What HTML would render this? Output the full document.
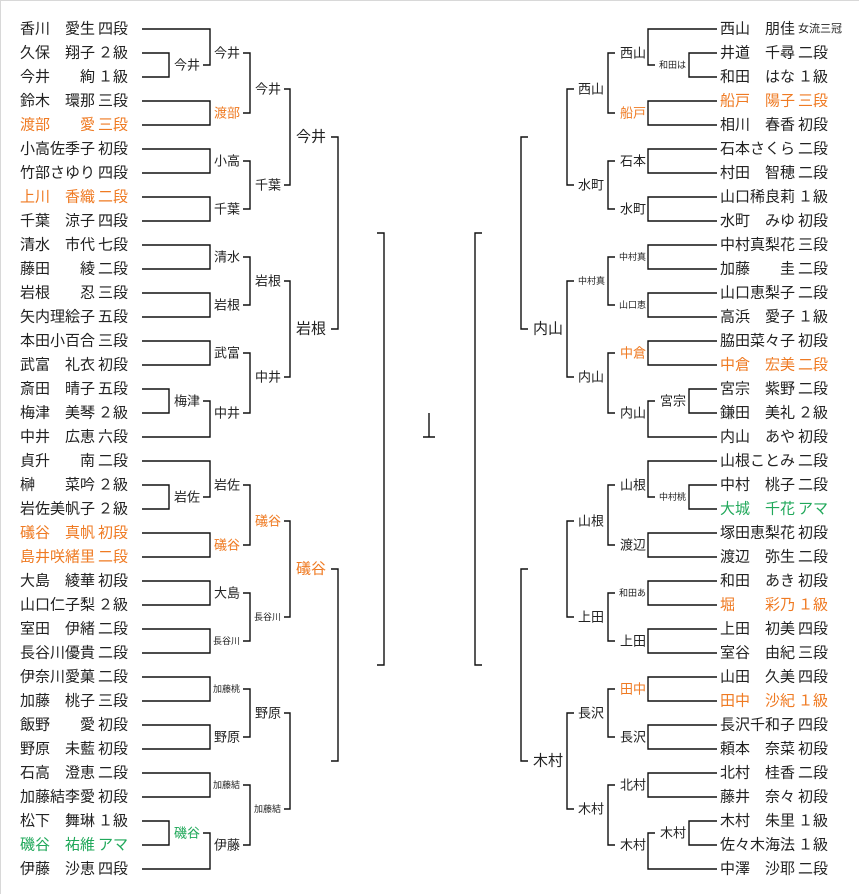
<!DOCTYPE html>
<html><head><meta charset="utf-8"><style>
html,body{margin:0;padding:0;background:#fff;}
svg{display:block;}
text{font-family:"Liberation Sans","Noto Sans CJK JP",sans-serif;fill:#222;dominant-baseline:central;}
.n{font-size:15px;}
.l{font-size:13px;}
.b{font-size:15px;}
.s{font-size:9px;}
.t{font-size:11px;}
.o{fill:#ef7a22;}
.g{fill:#20a85a;}
.e{text-anchor:end;}
</style></head><body>
<svg width="859" height="894" viewBox="0 0 859 894" xmlns="http://www.w3.org/2000/svg">
<rect x="0.5" y="0.5" width="880" height="900" fill="none" stroke="#d8d8d8"/>
<g fill="none" stroke="#111" stroke-width="1.4">
<path d="M142 29H210V65H203M142 53H169V77H142M142 101H210V125H142M142 149H210V173H142M142 197H210V221H142M243 53H250V113H243M243 161H250V209H243M284 89H290V185H284M331 137H338V329H331"/>
<path d="M142 245H210V269H142M142 293H210V317H142M142 341H210V365H142M142 389H169V413H142M203 401H210V437H142M243 257H250V305H243M243 353H250V413H243M284 281H290V377H284"/>
<path d="M142 461H210V497H203M142 485H169V509H142M142 533H210V557H142M142 581H210V605H142M142 629H210V653H142M243 485H250V545H243M243 593H250V641H243M284 521H290V617H284M331 569H338V761H331"/>
<path d="M142 677H210V701H142M142 725H210V749H142M142 773H210V797H142M142 821H169V845H142M203 833H210V869H142M243 689H250V737H243M243 785H250V845H243M284 713H290V809H284"/>
<path d="M377 233H384V665H377M429 413V437M423 437H435"/>
<path d="M717 29H648V65H655M717 53H689V77H717M717 101H648V125H717M717 149H648V173H717M717 197H648V221H717M615 53H608V113H615M615 161H608V209H615M574 89H567V185H574M528 137H521V329H528"/>
<path d="M717 245H648V269H717M717 293H648V317H717M717 341H648V365H717M717 389H689V413H717M655 401H648V437H717M615 257H608V305H615M615 353H608V413H615M574 281H567V377H574"/>
<path d="M717 461H648V497H655M717 485H689V509H717M717 533H648V557H717M717 581H648V605H717M717 629H648V653H717M615 485H608V545H615M615 593H608V641H615M574 521H567V617H574M528 569H521V761H528"/>
<path d="M717 677H648V701H717M717 725H648V749H717M717 773H648V797H717M717 821H689V845H717M655 833H648V869H717M615 689H608V737H615M615 785H608V845H615M574 713H567V809H574"/>
<path d="M482 233H475V665H482"/>
</g>

<g class="n">
<text x="20" y="29">香川</text><text x="95" y="29" class="e">愛生</text><text x="98" y="29">四段</text>
<text x="20" y="53">久保</text><text x="95" y="53" class="e">翔子</text><text x="98" y="53">２級</text>
<text x="20" y="77">今井</text><text x="95" y="77" class="e">絢</text><text x="98" y="77">１級</text>
<text x="20" y="101">鈴木</text><text x="95" y="101" class="e">環那</text><text x="98" y="101">三段</text>
<text x="20" y="125" class="o">渡部</text><text x="95" y="125" class="e o">愛</text><text x="98" y="125" class="o">三段</text>
<text x="20" y="149">小高佐季子</text><text x="98" y="149">初段</text>
<text x="20" y="173">竹部さゆり</text><text x="98" y="173">四段</text>
<text x="20" y="197" class="o">上川</text><text x="95" y="197" class="e o">香織</text><text x="98" y="197" class="o">二段</text>
<text x="20" y="221">千葉</text><text x="95" y="221" class="e">涼子</text><text x="98" y="221">四段</text>
<text x="20" y="245">清水</text><text x="95" y="245" class="e">市代</text><text x="98" y="245">七段</text>
<text x="20" y="269">藤田</text><text x="95" y="269" class="e">綾</text><text x="98" y="269">二段</text>
<text x="20" y="293">岩根</text><text x="95" y="293" class="e">忍</text><text x="98" y="293">三段</text>
<text x="20" y="317">矢内理絵子</text><text x="98" y="317">五段</text>
<text x="20" y="341">本田小百合</text><text x="98" y="341">三段</text>
<text x="20" y="365">武富</text><text x="95" y="365" class="e">礼衣</text><text x="98" y="365">初段</text>
<text x="20" y="389">斎田</text><text x="95" y="389" class="e">晴子</text><text x="98" y="389">五段</text>
<text x="20" y="413">梅津</text><text x="95" y="413" class="e">美琴</text><text x="98" y="413">２級</text>
<text x="20" y="437">中井</text><text x="95" y="437" class="e">広恵</text><text x="98" y="437">六段</text>
<text x="20" y="461">貞升</text><text x="95" y="461" class="e">南</text><text x="98" y="461">二段</text>
<text x="20" y="485">榊</text><text x="95" y="485" class="e">菜吟</text><text x="98" y="485">２級</text>
<text x="20" y="509">岩佐美帆子</text><text x="98" y="509">２級</text>
<text x="20" y="533" class="o">礒谷</text><text x="95" y="533" class="e o">真帆</text><text x="98" y="533" class="o">初段</text>
<text x="20" y="557" class="o">島井咲緒里</text><text x="98" y="557" class="o">二段</text>
<text x="20" y="581">大島</text><text x="95" y="581" class="e">綾華</text><text x="98" y="581">初段</text>
<text x="20" y="605">山口仁子梨</text><text x="98" y="605">２級</text>
<text x="20" y="629">室田</text><text x="95" y="629" class="e">伊緒</text><text x="98" y="629">二段</text>
<text x="20" y="653">長谷川優貴</text><text x="98" y="653">二段</text>
<text x="20" y="677">伊奈川愛菓</text><text x="98" y="677">二段</text>
<text x="20" y="701">加藤</text><text x="95" y="701" class="e">桃子</text><text x="98" y="701">三段</text>
<text x="20" y="725">飯野</text><text x="95" y="725" class="e">愛</text><text x="98" y="725">初段</text>
<text x="20" y="749">野原</text><text x="95" y="749" class="e">未藍</text><text x="98" y="749">初段</text>
<text x="20" y="773">石高</text><text x="95" y="773" class="e">澄恵</text><text x="98" y="773">二段</text>
<text x="20" y="797">加藤結李愛</text><text x="98" y="797">初段</text>
<text x="20" y="821">松下</text><text x="95" y="821" class="e">舞琳</text><text x="98" y="821">１級</text>
<text x="20" y="845" class="g">磯谷</text><text x="95" y="845" class="e g">祐維</text><text x="98" y="845" class="g">アマ</text>
<text x="20" y="869">伊藤</text><text x="95" y="869" class="e">沙恵</text><text x="98" y="869">四段</text>
</g>

<g class="n">
<text x="720" y="29">西山</text><text x="795" y="29" class="e">朋佳</text><text x="798" y="29" class="t">女流三冠</text>
<text x="720" y="53">井道</text><text x="795" y="53" class="e">千尋</text><text x="798" y="53">二段</text>
<text x="720" y="77">和田</text><text x="795" y="77" class="e">はな</text><text x="798" y="77">１級</text>
<text x="720" y="101" class="o">船戸</text><text x="795" y="101" class="e o">陽子</text><text x="798" y="101" class="o">三段</text>
<text x="720" y="125">相川</text><text x="795" y="125" class="e">春香</text><text x="798" y="125">初段</text>
<text x="720" y="149">石本さくら</text><text x="798" y="149">二段</text>
<text x="720" y="173">村田</text><text x="795" y="173" class="e">智穂</text><text x="798" y="173">二段</text>
<text x="720" y="197">山口稀良莉</text><text x="798" y="197">１級</text>
<text x="720" y="221">水町</text><text x="795" y="221" class="e">みゆ</text><text x="798" y="221">初段</text>
<text x="720" y="245">中村真梨花</text><text x="798" y="245">三段</text>
<text x="720" y="269">加藤</text><text x="795" y="269" class="e">圭</text><text x="798" y="269">二段</text>
<text x="720" y="293">山口恵梨子</text><text x="798" y="293">二段</text>
<text x="720" y="317">高浜</text><text x="795" y="317" class="e">愛子</text><text x="798" y="317">１級</text>
<text x="720" y="341">脇田菜々子</text><text x="798" y="341">初段</text>
<text x="720" y="365" class="o">中倉</text><text x="795" y="365" class="e o">宏美</text><text x="798" y="365" class="o">二段</text>
<text x="720" y="389">宮宗</text><text x="795" y="389" class="e">紫野</text><text x="798" y="389">二段</text>
<text x="720" y="413">鎌田</text><text x="795" y="413" class="e">美礼</text><text x="798" y="413">２級</text>
<text x="720" y="437">内山</text><text x="795" y="437" class="e">あや</text><text x="798" y="437">初段</text>
<text x="720" y="461">山根ことみ</text><text x="798" y="461">二段</text>
<text x="720" y="485">中村</text><text x="795" y="485" class="e">桃子</text><text x="798" y="485">二段</text>
<text x="720" y="509" class="g">大城</text><text x="795" y="509" class="e g">千花</text><text x="798" y="509" class="g">アマ</text>
<text x="720" y="533">塚田恵梨花</text><text x="798" y="533">初段</text>
<text x="720" y="557">渡辺</text><text x="795" y="557" class="e">弥生</text><text x="798" y="557">二段</text>
<text x="720" y="581">和田</text><text x="795" y="581" class="e">あき</text><text x="798" y="581">初段</text>
<text x="720" y="605" class="o">堀</text><text x="795" y="605" class="e o">彩乃</text><text x="798" y="605" class="o">１級</text>
<text x="720" y="629">上田</text><text x="795" y="629" class="e">初美</text><text x="798" y="629">四段</text>
<text x="720" y="653">室谷</text><text x="795" y="653" class="e">由紀</text><text x="798" y="653">三段</text>
<text x="720" y="677">山田</text><text x="795" y="677" class="e">久美</text><text x="798" y="677">四段</text>
<text x="720" y="701" class="o">田中</text><text x="795" y="701" class="e o">沙紀</text><text x="798" y="701" class="o">１級</text>
<text x="720" y="725">長沢千和子</text><text x="798" y="725">四段</text>
<text x="720" y="749">頼本</text><text x="795" y="749" class="e">奈菜</text><text x="798" y="749">初段</text>
<text x="720" y="773">北村</text><text x="795" y="773" class="e">桂香</text><text x="798" y="773">二段</text>
<text x="720" y="797">藤井</text><text x="795" y="797" class="e">奈々</text><text x="798" y="797">初段</text>
<text x="720" y="821">木村</text><text x="795" y="821" class="e">朱里</text><text x="798" y="821">１級</text>
<text x="720" y="845">佐々木海法</text><text x="798" y="845">１級</text>
<text x="720" y="869">中澤</text><text x="795" y="869" class="e">沙耶</text><text x="798" y="869">二段</text>
</g>

<g class="l">
<text x="240" y="53" class="e">今井</text>
<text x="240" y="113" class="e o">渡部</text>
<text x="240" y="161" class="e">小高</text>
<text x="240" y="209" class="e">千葉</text>
<text x="240" y="257" class="e">清水</text>
<text x="240" y="305" class="e">岩根</text>
<text x="240" y="353" class="e">武富</text>
<text x="240" y="413" class="e">中井</text>
<text x="240" y="485" class="e">岩佐</text>
<text x="240" y="545" class="e o">礒谷</text>
<text x="240" y="593" class="e">大島</text>
<text x="240" y="641" class="e s">長谷川</text>
<text x="240" y="689" class="e s">加藤桃</text>
<text x="240" y="737" class="e">野原</text>
<text x="240" y="785" class="e s">加藤結</text>
<text x="240" y="845" class="e">伊藤</text>
<text x="200" y="65" class="e">今井</text>
<text x="200" y="401" class="e">梅津</text>
<text x="200" y="497" class="e">岩佐</text>
<text x="200" y="833" class="e g">磯谷</text>
<text x="281" y="89" class="e">今井</text>
<text x="281" y="185" class="e">千葉</text>
<text x="281" y="281" class="e">岩根</text>
<text x="281" y="377" class="e">中井</text>
<text x="281" y="521" class="e o">礒谷</text>
<text x="281" y="617" class="e s">長谷川</text>
<text x="281" y="713" class="e">野原</text>
<text x="281" y="809" class="e s">加藤結</text>
</g>
<g class="b">
<text x="326" y="137" class="e">今井</text>
<text x="326" y="329" class="e">岩根</text>
<text x="326" y="569" class="e o">礒谷</text>
<text x="533" y="329">内山</text>
<text x="533" y="761">木村</text>
</g>

<g class="l">
<text x="620" y="53">西山</text>
<text x="620" y="113" class="o">船戸</text>
<text x="620" y="161">石本</text>
<text x="620" y="209">水町</text>
<text x="619" y="257" class="s">中村真</text>
<text x="619" y="305" class="s">山口恵</text>
<text x="620" y="353" class="o">中倉</text>
<text x="620" y="413">内山</text>
<text x="620" y="485">山根</text>
<text x="620" y="545">渡辺</text>
<text x="619" y="593" class="s">和田あ</text>
<text x="620" y="641">上田</text>
<text x="620" y="689" class="o">田中</text>
<text x="620" y="737">長沢</text>
<text x="620" y="785">北村</text>
<text x="620" y="845">木村</text>
<text x="659" y="65" class="s">和田は</text>
<text x="660" y="401">宮宗</text>
<text x="659" y="497" class="s">中村桃</text>
<text x="660" y="833">木村</text>
<text x="578" y="89">西山</text>
<text x="578" y="185">水町</text>
<text x="578" y="281" class="s">中村真</text>
<text x="578" y="377">内山</text>
<text x="578" y="521">山根</text>
<text x="578" y="617">上田</text>
<text x="578" y="713">長沢</text>
<text x="578" y="809">木村</text>
</g>
</svg>
</body></html>
